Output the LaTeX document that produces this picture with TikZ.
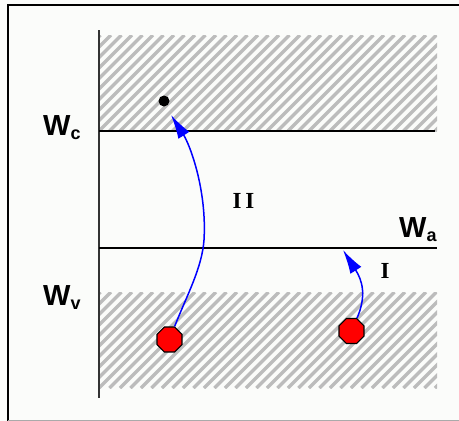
\documentclass[tikz,border=0pt]{standalone}
\usepackage{fontspec}
\setmainfont{Liberation Sans}
\newfontfamily\serifb{Liberation Serif}
\usetikzlibrary{shapes.geometric,arrows.meta}
\definecolor{hatchgray}{RGB}{188,188,188}
\definecolor{bgwhite}{RGB}{251,252,250}
\definecolor{framegray}{RGB}{170,170,170}
\begin{document}
\begin{tikzpicture}[x=1pt,y=-1pt,
  hatchline/.style={draw=hatchgray,line width=3.2pt},
  level/.style={draw=black,line width=1.6pt},
  trans/.style={draw=blue,line width=1.5pt,-{Latex[length=24pt,width=13pt]}},
  electron/.style={regular polygon,regular polygon sides=8,minimum size=27pt,inner sep=0pt,fill=red,draw=black,line width=1.2pt},
  wlabel/.style={font=\fontsize{29}{29}\selectfont\bfseries,inner sep=0pt,anchor=base west},
  rlabel/.style={font=\serifb\fontsize{23}{23}\selectfont\bfseries,inner sep=0pt,anchor=base}]
\useasboundingbox (0,0) rectangle (459,421);
\fill[bgwhite] (0,0) rectangle (459,421);
% frame
\draw[line width=2pt] (8,421) -- (8,5) -- (459,5);
\draw[framegray,line width=1pt] (8,420) -- (459,420);
% hatched bands
\begin{scope}
\clip (99,35) rectangle (437,131);
\foreach \i in {-10,...,33} \draw[hatchline] ({99+\i*10.5},131) -- ++(96,-96);
\end{scope}
\begin{scope}
\clip (99,292) rectangle (437,388);
\foreach \i in {-10,...,33} \draw[hatchline] ({99+\i*10.5},388) -- ++(96,-96);
\end{scope}
% axis and levels
\draw[line width=2pt,black!80] (99,30) -- (99,398);
\draw[level] (99,131) -- (435,131);
\draw[level] (99,248) -- (437,248);
% labels
\node[wlabel] (wc) at (43,135) {W\raisebox{-4pt}{\fontsize{18}{18}\selectfont c}};
\node[wlabel] (wv) at (43,305) {W\raisebox{-4pt}{\fontsize{18}{18}\selectfont v}};
\node[wlabel] (wa) at (399,237) {W\raisebox{-4pt}{\fontsize{18}{18}\selectfont a}};
\node[rlabel] (ii) at (243.5,208) {I\kern4pt I};
\node[rlabel] (i) at (385,278) {I};
% particles
\node[circle,fill=black,minimum size=11pt,inner sep=0pt] (dot) at (164,101) {};
\node[electron] (e1) at (169.5,339.5) {};
\node[electron] (e2) at (351.5,331) {};
\coordinate (tipII) at (171,115);
\coordinate (midII) at (204,240);
\coordinate (tipI) at (343,250);
\draw[trans] (e1) .. controls (187,295) and (202,268) .. (midII) .. controls (207,190) and (190,145) .. (tipII);
\draw[trans] (e2) .. controls (367,295) and (362,280) .. (tipI);
\end{tikzpicture}
\end{document}
